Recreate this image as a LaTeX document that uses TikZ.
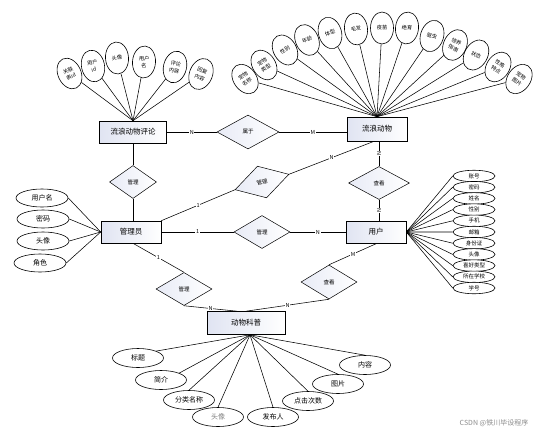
\documentclass[tikz,border=0pt]{standalone}
\usepackage{fontspec}
\setmainfont{Noto Sans CJK SC}
\usetikzlibrary{shapes.geometric,shadows}
\definecolor{entfill}{RGB}{224,228,242}
\definecolor{relfill}{RGB}{232,235,246}
\tikzset{
  ent/.style={draw, line width=0.6pt, minimum width=60pt, minimum height=22pt, inner sep=0pt,
    left color=entfill, right color=white,
    drop shadow={opacity=0.35, shadow xshift=0.8pt, shadow yshift=-0.8pt},
    font=\fontsize{7.5}{8}\selectfont},
  rel/.style={draw, diamond, line width=0.5pt, inner sep=0pt, minimum width=56pt, minimum height=33pt,
    left color=relfill, right color=white, font=\fontsize{5.5}{6}\selectfont},
  sattr/.style={draw, ellipse, line width=0.6pt, fill=white, inner sep=0pt, minimum width=23pt,
    minimum height=32pt, align=center, font=\fontsize{5.2}{7.2}\selectfont},
  uattr/.style={draw, ellipse, line width=0.6pt, fill=white, inner sep=0pt, minimum width=42pt,
    minimum height=11.5pt, font=\fontsize{5.5}{6}\selectfont},
  battr/.style={draw, ellipse, line width=0.6pt, fill=white, inner sep=0pt, minimum width=51pt,
    minimum height=19pt, font=\fontsize{7}{8}\selectfont},
  lab/.style={fill=white, inner sep=0.6pt, font=\fontsize{5.5}{6}\selectfont},
  conn/.style={line width=0.55pt},
}
\begin{document}
\begin{tikzpicture}[x=1pt,y=-1pt]
\useasboundingbox[fill=white] (0,0) rectangle (548,434);

% entities
\node[ent, minimum width=67pt] (comment) at (133,132) {流浪动物评论};
\node[ent, minimum height=24pt] (animal) at (377,129) {流浪动物};
\node[ent] (admin) at (131,232) {管理员};
\node[ent] (user) at (376,232) {用户};
\node[ent, minimum width=78pt, minimum height=23pt] (kp) at (246,323) {动物科普};

% relations
\node[rel, minimum width=62pt, minimum height=34pt] (r1) at (248,132) {属于};
\node[rel, minimum width=47pt] (r2) at (133,182) {管理};
\node[rel, rotate=16] (r3) at (262,182) {管理};
\node[rel] (r4) at (262,232) {管理};
\node[rel, minimum width=61pt] (r5) at (379,183) {查看};
\node[rel] (r6) at (184,289) {管理};
\node[rel, minimum height=34pt] (r7) at (329,282) {查看};

% relation connectors
\draw[conn] (comment.east) -- node[lab]{N} (r1.west);
\draw[conn] (r1.east) -- node[lab]{M} (r1.east -| animal.west);
\draw[conn] (comment.south) -- (r2.north);
\draw[conn] (r2.south) -- (r2.south |- admin.north);
\draw[conn] (admin.north east) -- node[lab]{1} (r3.west);
\draw[conn] (r3.east) -- node[lab]{N} ([xshift=-3pt]animal.south);
\draw[conn] (admin.east) -- node[lab]{1} (r4.west);
\draw[conn] (r4.east) -- node[lab]{N} (user.west);
\draw[conn] (r5.north |- animal.south) -- node[lab, rotate=90]{N} (r5.north);
\draw[conn] (r5.south) -- node[lab, rotate=90]{N} (r5.south |- user.north);
\draw[conn] ([xshift=2pt]admin.south) -- node[lab]{1} (r6.north);
\draw[conn] (r6.south) -- node[lab]{N} ([xshift=-9pt]kp.north);
\draw[conn] ([xshift=1pt]user.south) -- node[lab]{M} (r7.north);
\draw[conn] (r7.south) -- node[lab]{N} (kp.north);

% comment attributes
\node[sattr, rotate=25] (ca1) at (69.5,73.5) {关联\\表id};
\node[sattr, rotate=12] (ca2) at (93,66) {用户\\id};
\node[sattr, rotate=4] (ca3) at (117,58) {头像};
\node[sattr, rotate=-4] (ca4) at (144,62) {用户\\名};
\node[sattr, rotate=-14] (ca5) at (175,67) {评论\\内容};
\node[sattr, rotate=-22] (ca6) at (201,74) {回复\\内容};
\foreach \i in {1,...,6} \draw[conn] (ca\i) -- (comment.north);

% animal attributes
\node[sattr, rotate=35] (aa1) at (245,79) {宠物\\名称};
\node[sattr, rotate=33] (aa2) at (264,65) {宠物\\类型};
\node[sattr, rotate=30] (aa3) at (285,50) {性别};
\node[sattr, rotate=24] (aa4) at (307,40) {年龄};
\node[sattr, rotate=16] (aa5) at (330,33) {体型};
\node[sattr, rotate=7] (aa6) at (356,29) {毛发};
\node[sattr, rotate=0] (aa7) at (382,28) {疫苗};
\node[sattr, rotate=-6] (aa8) at (407,28) {绝育};
\node[sattr, rotate=-18] (aa9) at (432,36) {驱虫};
\node[sattr, rotate=-25] (aa10) at (455,45) {领养\\指南};
\node[sattr, rotate=-30] (aa11) at (476,55) {状态};
\node[sattr, rotate=-33] (aa12) at (498,67) {性格\\特点};
\node[sattr, rotate=-35] (aa13) at (519,79) {宠物\\图片};
\foreach \i in {1,...,13} \draw[conn] (aa\i) -- (animal.north);

% user attributes
\foreach \t [count=\i] in {账号,密码,姓名,性别,手机,邮箱,身份证,头像,喜好类型,所在学校,学号} {
  \node[uattr] (ua\i) at (474,{164.8+11.2*\i}) {\t};
  \draw[conn] (user.east) -- (ua\i.west);
}

% admin attributes
\node[battr, minimum width=52pt, minimum height=18pt] (ad1) at (42,198) {用户名};
\node[battr, minimum width=52pt, minimum height=18pt] (ad2) at (43,219) {密码};
\node[battr, minimum width=52pt, minimum height=18pt] (ad3) at (43,241) {头像};
\node[battr, minimum width=52pt, minimum height=18pt] (ad4) at (40,263) {角色};
\foreach \i in {1,...,4} \draw[conn] (ad\i.east) -- (admin.west);

% popular science attributes
\node[battr] (b1) at (138,358) {标题};
\node[battr] (b2) at (161,380) {简介};
\node[battr] (b3) at (189,400) {分类名称};
\node[battr, text=gray] (b4) at (218,417) {头像};
\node[battr] (b5) at (273,417) {发布人};
\node[battr] (b6) at (308,401) {点击次数};
\node[battr] (b7) at (338,384) {图片};
\node[battr] (b8) at (365,365) {内容};
\coordinate (kpc) at ([xshift=4pt]kp.south);
\draw[conn] (b1.north east) -- (kpc);
\draw[conn] (b2.north east) -- (kpc);
\foreach \i in {3,...,8} \draw[conn] (b\i.north) -- (kpc);

% watermark
\node[text=black!45, font=\fontsize{7}{8}\selectfont, inner sep=0pt] (wm) at (494,423) {CSDN @铁川毕设程序};
\end{tikzpicture}
\end{document}
